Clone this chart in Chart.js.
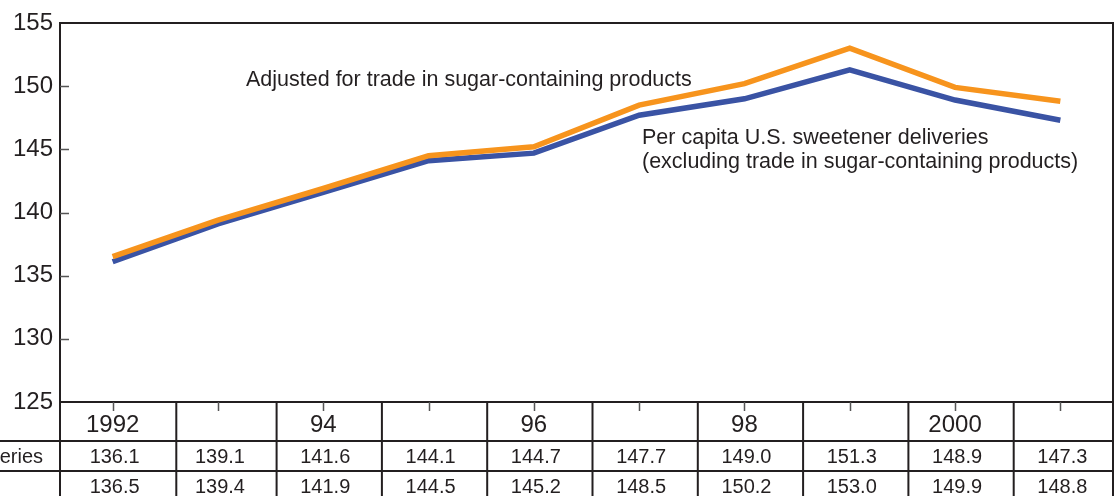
<!DOCTYPE html>
<html>
<head>
<meta charset="utf-8">
<script src="https://cdn.jsdelivr.net/npm/chart.js@4.4.0/dist/chart.umd.min.js"></script>
<style>
  html, body { margin: 0; padding: 0; background: #fff; }
  #wrap { width: 1116px; height: 496px; position: relative; }
</style>
</head>
<body>
<div id="wrap"><canvas id="sweetener"></canvas></div>
<script>
Chart.defaults.font.family = '"Liberation Sans", Arial, sans-serif';
Chart.defaults.color = '#231f20';

const inkColor = '#231f20';
const orangeColor = '#f7941d';
const blueColor = '#3a53a4';

const years = ['1992', '1993', '1994', '1995', '1996', '1997', '1998', '1999', '2000', '2001'];
const yearLabels = ['1992', '', '94', '', '96', '', '98', '', '2000', ''];
const deliveries = [136.1, 139.1, 141.6, 144.1, 144.7, 147.7, 149.0, 151.3, 148.9, 147.3];
const adjusted = [136.5, 139.4, 141.9, 144.5, 145.2, 148.5, 150.2, 153.0, 149.9, 148.8];
const yTicks = [125, 130, 135, 140, 145, 150, 155];

const adjustedNote = 'Adjusted for trade in sugar-containing products';
const deliveriesNote = ['Per capita U.S. sweetener deliveries', '(excluding trade in sugar-containing products)'];
const deliveriesRowName = 'Per capita deliveries';

// frame, inner tick marks, data table and notes
const tablePlugin = {
  id: 'tablePlugin',
  afterDraw(chart) {
    const ctx = chart.ctx;
    const area = chart.chartArea;
    const x = chart.scales.x;
    const y = chart.scales.y;
    const step = x.getPixelForValue(1) - x.getPixelForValue(0);
    const bottom = chart.height;
    const row1 = 441, row2 = 471;

    ctx.save();
    ctx.strokeStyle = inkColor;
    ctx.lineWidth = 2;
    ctx.beginPath();
    ctx.moveTo(area.left, area.top);
    ctx.lineTo(area.right, area.top);
    ctx.lineTo(area.right, bottom);
    ctx.moveTo(area.left, area.bottom);
    ctx.lineTo(area.left, bottom);
    ctx.moveTo(0, row1);
    ctx.lineTo(area.right, row1);
    ctx.moveTo(0, row2);
    ctx.lineTo(area.right, row2);
    years.forEach((yr, i) => {
      if (i === years.length - 1) return;
      const sx = x.getPixelForValue(i) + step / 2 + (i === 0 ? 11 : 6);
      ctx.moveTo(sx, area.bottom);
      ctx.lineTo(sx, bottom);
    });
    ctx.stroke();

    // small tick marks
    ctx.strokeStyle = '#555';
    ctx.lineWidth = 1.5;
    ctx.beginPath();
    yTicks.forEach(v => {
      if (v === 125 || v === 155) return;
      const py = Math.round(y.getPixelForValue(v)) + 0.5;
      ctx.moveTo(area.left, py);
      ctx.lineTo(area.left + 9, py);
    });
    years.forEach((yr, i) => {
      const px = Math.round(x.getPixelForValue(i)) + 0.5;
      ctx.moveTo(px, area.bottom);
      ctx.lineTo(px, area.bottom + 9);
    });
    ctx.stroke();

    // table text
    ctx.fillStyle = inkColor;
    ctx.textAlign = 'center';
    ctx.textBaseline = 'middle';
    ctx.font = '24px "Liberation Sans", Arial, sans-serif';
    yearLabels.forEach((lab, i) => {
      ctx.fillText(lab, x.getPixelForValue(i), 425);
    });
    ctx.font = '20px "Liberation Sans", Arial, sans-serif';
    deliveries.forEach((v, i) => {
      ctx.fillText(v.toFixed(1), x.getPixelForValue(i) + 2, 457);
    });
    adjusted.forEach((v, i) => {
      ctx.fillText(v.toFixed(1), x.getPixelForValue(i) + 2, 487);
    });
    ctx.textAlign = 'right';
    ctx.fillText(deliveriesRowName, 43, 457);

    // notes
    ctx.textAlign = 'left';
    ctx.font = '21.5px "Liberation Sans", Arial, sans-serif';
    ctx.fillText(adjustedNote, 246, 80);
    ctx.fillText(deliveriesNote[0], 642, 138);
    ctx.fillText(deliveriesNote[1], 642, 162);
    ctx.restore();
  }
};

new Chart(document.getElementById('sweetener'), {
  type: 'line',
  data: {
    labels: years,
    datasets: [{
      label: 'Adjusted for trade in sugar-containing products',
      data: adjusted,
      borderColor: orangeColor,
      borderWidth: 5.5,
      pointRadius: 0,
      tension: 0,
    }, {
      label: 'Per capita U.S. sweetener deliveries',
      data: deliveries,
      borderColor: blueColor,
      borderWidth: 5.5,
      pointRadius: 0,
      tension: 0,
    }]
  },
  options: {
    responsive: true,
    maintainAspectRatio: false,
    animation: false,
    layout: { padding: { top: 23, right: 3, left: 0, bottom: 0 } },
    plugins: {
      legend: { display: false },
      tooltip: { enabled: false }
    },
    scales: {
      x: {
        type: 'category',
        offset: true,
        grid: { display: false, drawTicks: false },
        border: { display: true, color: inkColor, width: 2 },
        ticks: { display: false },
        afterFit(scale) { scale.height = 94; }
      },
      y: {
        min: 125,
        max: 155,
        grid: { display: false, drawTicks: false },
        border: { display: true, color: inkColor, width: 2 },
        ticks: {
          stepSize: 5,
          padding: 7,
          color: inkColor,
          font: { size: 24 }
        },
        afterFit(scale) { scale.width = 60; }
      }
    }
  },
  plugins: [tablePlugin]
});
</script>
</body>
</html>
